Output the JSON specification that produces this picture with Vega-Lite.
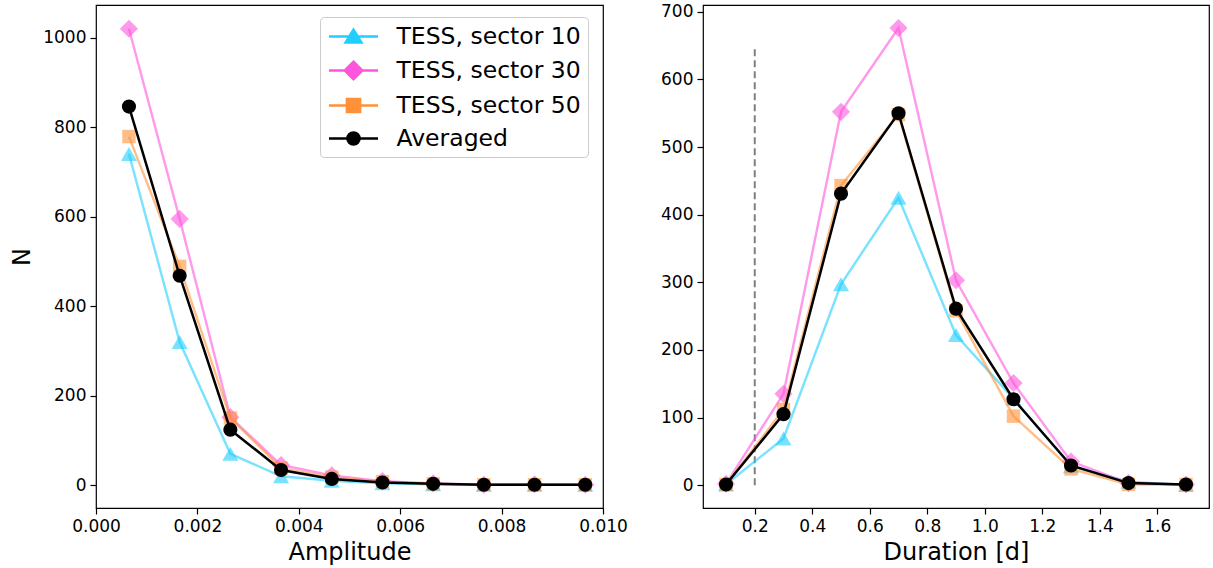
{
  "$schema": "https://vega.github.io/schema/vega-lite/v6.json",
  "padding": {"left": 10, "top": 2, "right": 0, "bottom": 0},
  "background": "white",
  "datasets": {
    "amp": [
      {"amp": 0.00065, "series": "TESS, sector 10", "n": 740},
      {"amp": 0.00165, "series": "TESS, sector 10", "n": 320},
      {"amp": 0.00265, "series": "TESS, sector 10", "n": 70},
      {"amp": 0.00365, "series": "TESS, sector 10", "n": 20},
      {"amp": 0.00465, "series": "TESS, sector 10", "n": 10},
      {"amp": 0.00565, "series": "TESS, sector 10", "n": 4},
      {"amp": 0.00665, "series": "TESS, sector 10", "n": 2},
      {"amp": 0.00765, "series": "TESS, sector 10", "n": 1},
      {"amp": 0.00865, "series": "TESS, sector 10", "n": 1},
      {"amp": 0.00965, "series": "TESS, sector 10", "n": 1},
      {"amp": 0.00065, "series": "TESS, sector 30", "n": 1020},
      {"amp": 0.00165, "series": "TESS, sector 30", "n": 595},
      {"amp": 0.00265, "series": "TESS, sector 30", "n": 152},
      {"amp": 0.00365, "series": "TESS, sector 30", "n": 45},
      {"amp": 0.00465, "series": "TESS, sector 30", "n": 22},
      {"amp": 0.00565, "series": "TESS, sector 30", "n": 9},
      {"amp": 0.00665, "series": "TESS, sector 30", "n": 4},
      {"amp": 0.00765, "series": "TESS, sector 30", "n": 1},
      {"amp": 0.00865, "series": "TESS, sector 30", "n": 2},
      {"amp": 0.00965, "series": "TESS, sector 30", "n": 1},
      {"amp": 0.00065, "series": "TESS, sector 50", "n": 779},
      {"amp": 0.00165, "series": "TESS, sector 50", "n": 489},
      {"amp": 0.00265, "series": "TESS, sector 50", "n": 150},
      {"amp": 0.00365, "series": "TESS, sector 50", "n": 38},
      {"amp": 0.00465, "series": "TESS, sector 50", "n": 18},
      {"amp": 0.00565, "series": "TESS, sector 50", "n": 8},
      {"amp": 0.00665, "series": "TESS, sector 50", "n": 3},
      {"amp": 0.00765, "series": "TESS, sector 50", "n": 1},
      {"amp": 0.00865, "series": "TESS, sector 50", "n": 1},
      {"amp": 0.00965, "series": "TESS, sector 50", "n": 1},
      {"amp": 0.00065, "series": "Averaged", "n": 846},
      {"amp": 0.00165, "series": "Averaged", "n": 468},
      {"amp": 0.00265, "series": "Averaged", "n": 124},
      {"amp": 0.00365, "series": "Averaged", "n": 34},
      {"amp": 0.00465, "series": "Averaged", "n": 14},
      {"amp": 0.00565, "series": "Averaged", "n": 6},
      {"amp": 0.00665, "series": "Averaged", "n": 3},
      {"amp": 0.00765, "series": "Averaged", "n": 1},
      {"amp": 0.00865, "series": "Averaged", "n": 1},
      {"amp": 0.00965, "series": "Averaged", "n": 1}
    ],
    "dur": [
      {"dur": 0.1, "series": "TESS, sector 10", "n": 1},
      {"dur": 0.3, "series": "TESS, sector 10", "n": 69},
      {"dur": 0.5, "series": "TESS, sector 10", "n": 297},
      {"dur": 0.7, "series": "TESS, sector 10", "n": 425},
      {"dur": 0.9, "series": "TESS, sector 10", "n": 222},
      {"dur": 1.1, "series": "TESS, sector 10", "n": 128},
      {"dur": 1.3, "series": "TESS, sector 10", "n": 28},
      {"dur": 1.5, "series": "TESS, sector 10", "n": 5},
      {"dur": 1.7, "series": "TESS, sector 10", "n": 0},
      {"dur": 0.1, "series": "TESS, sector 30", "n": 2},
      {"dur": 0.3, "series": "TESS, sector 30", "n": 135},
      {"dur": 0.5, "series": "TESS, sector 30", "n": 552},
      {"dur": 0.7, "series": "TESS, sector 30", "n": 676},
      {"dur": 0.9, "series": "TESS, sector 30", "n": 303},
      {"dur": 1.1, "series": "TESS, sector 30", "n": 151},
      {"dur": 1.3, "series": "TESS, sector 30", "n": 35},
      {"dur": 1.5, "series": "TESS, sector 30", "n": 3},
      {"dur": 1.7, "series": "TESS, sector 30", "n": 1},
      {"dur": 0.1, "series": "TESS, sector 50", "n": 1},
      {"dur": 0.3, "series": "TESS, sector 50", "n": 112},
      {"dur": 0.5, "series": "TESS, sector 50", "n": 443},
      {"dur": 0.7, "series": "TESS, sector 50", "n": 548},
      {"dur": 0.9, "series": "TESS, sector 50", "n": 258},
      {"dur": 1.1, "series": "TESS, sector 50", "n": 102},
      {"dur": 1.3, "series": "TESS, sector 50", "n": 24},
      {"dur": 1.5, "series": "TESS, sector 50", "n": 1},
      {"dur": 1.7, "series": "TESS, sector 50", "n": 1},
      {"dur": 0.1, "series": "Averaged", "n": 1},
      {"dur": 0.3, "series": "Averaged", "n": 105},
      {"dur": 0.5, "series": "Averaged", "n": 431},
      {"dur": 0.7, "series": "Averaged", "n": 550},
      {"dur": 0.9, "series": "Averaged", "n": 261},
      {"dur": 1.1, "series": "Averaged", "n": 127},
      {"dur": 1.3, "series": "Averaged", "n": 29},
      {"dur": 1.5, "series": "Averaged", "n": 3},
      {"dur": 1.7, "series": "Averaged", "n": 1}
    ],
    "vline": [
      {"dur": 0.2, "n": 0, "n2": 650}
    ]
  },
  "hconcat": [
    {
      "width": 507,
      "height": 503,
      "data": {"name": "amp"},
      "encoding": {
        "x": {"field": "amp", "type": "quantitative", "scale": {"domain": [0, 0.01], "nice": false, "zero": false},
              "axis": {"title": "Amplitude", "values": [0, 0.002, 0.004, 0.006, 0.008, 0.01], "format": ".3f"}},
        "y": {"field": "n", "type": "quantitative", "scale": {"domain": [-51, 1073], "nice": false, "zero": false},
              "axis": {"title": "N", "values": [0, 200, 400, 600, 800, 1000], "format": "d"}}
      },
      "layer": [
        {"transform": [{"filter": "datum.series === 'TESS, sector 10'"}],
         "mark": {"type": "line", "strokeWidth": 2.4, "opacity": 0.6, "color": "#1ecfff"}},
        {"transform": [{"filter": "datum.series === 'TESS, sector 10'"}],
         "mark": {"type": "point", "filled": true, "opacity": 0.6, "color": "#1ecfff", "shape": "triangle-up", "size": 256}},
        {"transform": [{"filter": "datum.series === 'TESS, sector 30'"}],
         "mark": {"type": "line", "strokeWidth": 2.4, "opacity": 0.6, "color": "#ff55dd"}},
        {"transform": [{"filter": "datum.series === 'TESS, sector 30'"}],
         "mark": {"type": "point", "filled": true, "opacity": 0.6, "color": "#ff55dd", "shape": "diamond", "size": 330}},
        {"transform": [{"filter": "datum.series === 'TESS, sector 50'"}],
         "mark": {"type": "line", "strokeWidth": 2.4, "opacity": 0.6, "color": "#ff9138"}},
        {"transform": [{"filter": "datum.series === 'TESS, sector 50'"}],
         "mark": {"type": "point", "filled": true, "opacity": 0.6, "color": "#ff9138", "shape": "square", "size": 180}},
        {"transform": [{"filter": "datum.series === 'Averaged'"}],
         "mark": {"type": "line", "strokeWidth": 2.5, "color": "black"}},
        {"transform": [{"filter": "datum.series === 'Averaged'"}],
         "mark": {"type": "point", "filled": true, "color": "black", "opacity": 1, "size": 200, "shape": "circle"}},
        {
          "mark": {"type": "point", "opacity": 0, "strokeWidth": 2.5},
          "encoding": {
            "fill": {"field": "series", "type": "nominal",
                     "scale": {"domain": ["TESS, sector 10", "TESS, sector 30", "TESS, sector 50", "Averaged"], "range": ["#1ecfff", "#ff55dd", "#ff9138", "#000000"]},
                     "legend": {"title": null, "orient": "none", "legendX": 224, "legendY": 12, "symbolSize": 484, "symbolStrokeWidth": 2.5, "symbolOffset": 14, "labelOffset": 30.5, "labelFontSize": 23.5, "labelColor": "black", "rowPadding": 8, "padding": 7, "strokeColor": "#cccccc", "fillColor": "white", "cornerRadius": 4, "labelLimit": 400, "symbolOpacity": 1}},
            "stroke": {"field": "series", "type": "nominal",
                     "scale": {"domain": ["TESS, sector 10", "TESS, sector 30", "TESS, sector 50", "Averaged"], "range": ["#1ecfff", "#ff55dd", "#ff9138", "#000000"]},
                     "legend": {"title": null, "orient": "none", "legendX": 224, "legendY": 12, "symbolSize": 484, "symbolStrokeWidth": 2.5, "symbolOffset": 14, "labelOffset": 30.5, "labelFontSize": 23.5, "labelColor": "black", "rowPadding": 8, "padding": 7, "strokeColor": "#cccccc", "fillColor": "white", "cornerRadius": 4, "labelLimit": 400, "symbolOpacity": 1}},
            "shape": {"field": "series", "type": "nominal",
                     "scale": {"domain": ["TESS, sector 10", "TESS, sector 30", "TESS, sector 50", "Averaged"],
                               "range": [
                                 "M-2.23,0H2.23M0,-0.62L0.72,0.55L-0.72,0.55Z",
                                 "M-2.23,0H2.23M0,-0.8L0.8,0L0,0.8L-0.8,0Z",
                                 "M-2.23,0H2.23M-0.6,-0.6H0.6V0.6H-0.6Z",
                                 "M-2.23,0H2.23M-0.55,0A0.55,0.55 0 1,0 0.55,0A0.55,0.55 0 1,0 -0.55,0Z"
                               ]},
                     "legend": {"title": null, "orient": "none", "legendX": 224, "legendY": 12, "symbolSize": 484, "symbolStrokeWidth": 2.5, "symbolOffset": 14, "labelOffset": 30.5, "labelFontSize": 23.5, "labelColor": "black", "rowPadding": 8, "padding": 7, "strokeColor": "#cccccc", "fillColor": "white", "cornerRadius": 4, "labelLimit": 400, "symbolOpacity": 1}}
          }
        }
      ]
    },
    {
      "width": 506,
      "height": 503,
      "data": {"name": "dur"},
      "encoding": {
        "x": {"field": "dur", "type": "quantitative", "scale": {"domain": [0.02, 1.78], "nice": false, "zero": false},
              "axis": {"title": "Duration [d]", "values": [0.2, 0.4, 0.6, 0.8, 1.0, 1.2, 1.4, 1.6], "format": ".1f"}},
        "y": {"field": "n", "type": "quantitative", "scale": {"domain": [-33.8, 710], "nice": false, "zero": false},
              "axis": {"title": null, "values": [0, 100, 200, 300, 400, 500, 600, 700], "format": "d"}}
      },
      "layer": [
        {"data": {"name": "vline"},
         "mark": {"type": "rule", "color": "#808080", "strokeWidth": 2, "strokeDash": [7, 4]},
         "encoding": {"y2": {"field": "n2"}}},
        {"transform": [{"filter": "datum.series === 'TESS, sector 10'"}],
         "mark": {"type": "line", "strokeWidth": 2.4, "opacity": 0.6, "color": "#1ecfff"}},
        {"transform": [{"filter": "datum.series === 'TESS, sector 10'"}],
         "mark": {"type": "point", "filled": true, "opacity": 0.6, "color": "#1ecfff", "shape": "triangle-up", "size": 256}},
        {"transform": [{"filter": "datum.series === 'TESS, sector 30'"}],
         "mark": {"type": "line", "strokeWidth": 2.4, "opacity": 0.6, "color": "#ff55dd"}},
        {"transform": [{"filter": "datum.series === 'TESS, sector 30'"}],
         "mark": {"type": "point", "filled": true, "opacity": 0.6, "color": "#ff55dd", "shape": "diamond", "size": 330}},
        {"transform": [{"filter": "datum.series === 'TESS, sector 50'"}],
         "mark": {"type": "line", "strokeWidth": 2.4, "opacity": 0.6, "color": "#ff9138"}},
        {"transform": [{"filter": "datum.series === 'TESS, sector 50'"}],
         "mark": {"type": "point", "filled": true, "opacity": 0.6, "color": "#ff9138", "shape": "square", "size": 180}},
        {"transform": [{"filter": "datum.series === 'Averaged'"}],
         "mark": {"type": "line", "strokeWidth": 2.5, "color": "black"}},
        {"transform": [{"filter": "datum.series === 'Averaged'"}],
         "mark": {"type": "point", "filled": true, "color": "black", "opacity": 1, "size": 200, "shape": "circle"}}
      ]
    }
  ],
  "spacing": 100,
  "bounds": "flush",
  "resolve": {"scale": {"x": "independent", "y": "independent"}},
  "config": {
    "font": "DejaVu Sans",
    "view": {"stroke": "black", "strokeWidth": 1.2},
    "axis": {"domain": false, "grid": false, "tickColor": "black", "tickSize": 6, "tickWidth": 1.2,
             "labelFontSize": 17, "labelColor": "black", "labelPadding": 4, "labelFont": "DejaVu Sans",
             "titleFontSize": 24, "titleFontWeight": "normal", "titleColor": "black", "titleFont": "DejaVu Sans",
             "labelFlush": false, "labelOverlap": false},
    "axisX": {"titlePadding": 6},
    "axisY": {"titlePadding": 8},
    "legend": {"labelFont": "DejaVu Sans"}
  }
}
